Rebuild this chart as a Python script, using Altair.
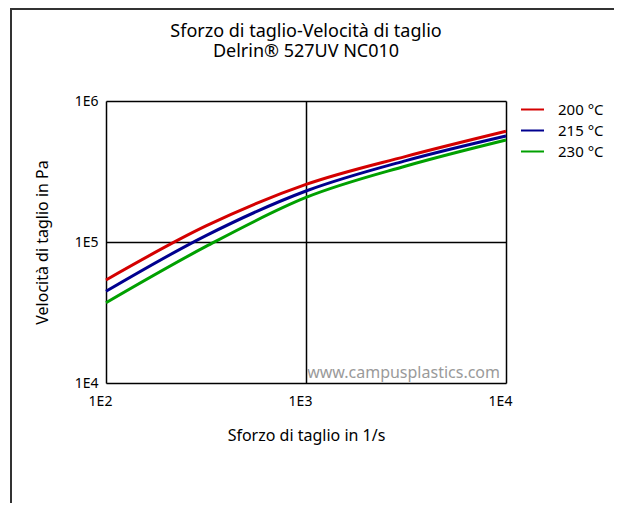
import altair as alt
import pandas as pd

# shear rate (1/s) sample points
shear_rate = [100, 316.2, 1000, 3162, 10000]
# shear stress (Pa) per temperature
stress_200 = [53800, 130000, 256000, 405000, 610000]
stress_215 = [44700, 111000, 230000, 378000, 565000]
stress_230 = [37100, 93000, 207000, 346000, 529000]
series_names = ["200 °C", "215 °C", "230 °C"]
series_colors = ["#d40000", "#00008f", "#00a000"]

x_ticks = [100, 1000, 10000]
y_ticks = [10000, 100000, 1000000]

rows = []
for name, vals in zip(series_names, [stress_200, stress_215, stress_230]):
    for xv, yv in zip(shear_rate, vals):
        rows.append({"rate": xv, "stress": yv, "serie": name})
df = pd.DataFrame(rows)

FONT = "Noto Sans"
W, H = 400, 282

lines = alt.Chart(df).mark_line(strokeWidth=3, interpolate="monotone").encode(
    x=alt.X("rate:Q",
            scale=alt.Scale(type="log", domain=[100, 10000], nice=False),
            axis=alt.Axis(values=x_ticks, labelExpr="'1E' + round(log(datum.value)/LN10)",
                          title="Sforzo di taglio in 1/s", grid=True, gridColor="black",
                          gridWidth=1.5, gridOpacity=1, tickSize=0, domain=False,
                          labelPadding=11, labelOffset=-6, labelFlush=False,
                          labelFontSize=14, titleFontSize=16,
                          titlePadding=19, labelColor="black", titleColor="black",
                          titleFontWeight="normal", labelFont=FONT, titleFont=FONT)),
    y=alt.Y("stress:Q",
            scale=alt.Scale(type="log", domain=[10000, 1000000], nice=False),
            axis=alt.Axis(values=y_ticks, labelExpr="'1E' + round(log(datum.value)/LN10)",
                          title="Velocità di taglio in Pa", grid=True, gridColor="black",
                          gridWidth=1.5, gridOpacity=1, tickSize=0, domain=False,
                          labelPadding=8, labelFontSize=14, titleFontSize=16,
                          titlePadding=24, labelColor="black", titleColor="black",
                          titleFontWeight="normal", labelFont=FONT, titleFont=FONT)),
    color=alt.Color("serie:N",
                    scale=alt.Scale(domain=series_names, range=series_colors),
                    legend=alt.Legend(title=None, orient="none", legendX=414, legendY=-4,
                                      symbolType="stroke", symbolSize=529,
                                      symbolStrokeWidth=2, labelFontSize=15,
                                      labelFont=FONT, labelColor="black",
                                      labelOffset=13, rowPadding=-1)),
)

watermark = alt.Chart(pd.DataFrame({"t": ["www.campusplastics.com"]})).mark_text(
    align="right", baseline="alphabetic", fontSize=16, font=FONT, color="#9a9a9a"
).encode(text="t:N", x=alt.value(W - 6), y=alt.value(H - 5))

frame_left = alt.Chart(pd.DataFrame({"a": [0]})).mark_rule(color="#333333", strokeWidth=2).encode(
    x=alt.value(-95), y=alt.value(-93), y2=alt.value(H + 130))
frame_top = alt.Chart(pd.DataFrame({"a": [0]})).mark_rule(color="#333333", strokeWidth=2).encode(
    y=alt.value(-92), x=alt.value(-96), x2=alt.value(W + 120))

chart = alt.layer(lines, watermark, frame_left, frame_top).properties(
    width=W, height=H,
    title=alt.TitleParams(
        text=["Sforzo di taglio-Velocità di taglio", "Delrin® 527UV NC010"],
        anchor="middle", frame="group", fontSize=18, font=FONT, fontWeight="normal",
        color="black", offset=0, dy=54, lineHeight=20),
    autosize=alt.AutoSizeParams(type="none"),
    padding={"left": 98, "top": 93, "right": 108, "bottom": 120},
).configure_view(stroke="black", strokeWidth=1.5).configure(background="white")

chart.save("out.html", embed_options={"renderer": "svg", "actions": False})
